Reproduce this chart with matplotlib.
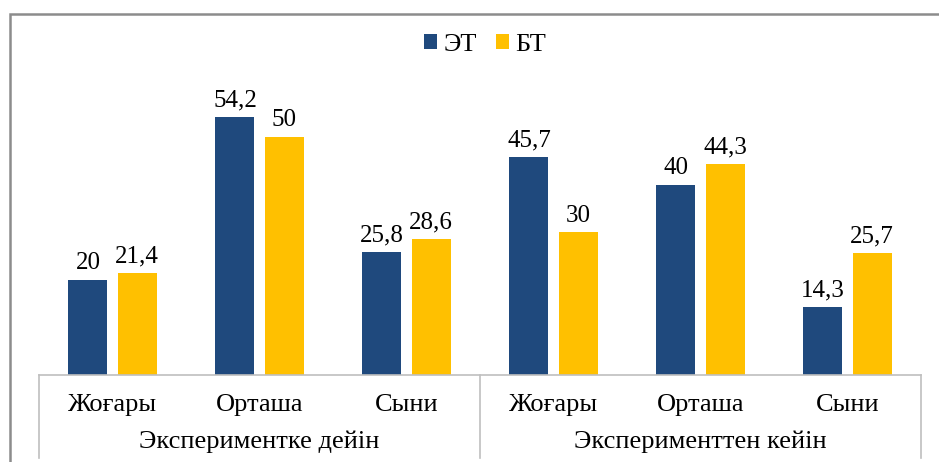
import matplotlib
matplotlib.use("Agg")
import matplotlib.pyplot as plt
import numpy as np
from matplotlib.patches import Rectangle

plt.rcParams["font.family"] = ["Liberation Serif", "DejaVu Serif"]

# данные
kategoriyalar = ["Жоғары", "Орташа", "Сыни", "Жоғары", "Орташа", "Сыни"]
toptar = ["Экспериментке дейін", "Эксперименттен кейін"]
et_mani = [20, 54.2, 25.8, 45.7, 40, 14.3]
bt_mani = [21.4, 50, 28.6, 30, 44.3, 25.7]
seriyalar = ["ЭТ", "БТ"]

KOK = "#1F497D"
SARY = "#FFC000"

W, H = 939, 462
fig = plt.figure(figsize=(W / 100, H / 100), dpi=100)

# axes in pixel coordinates
x0, x1 = 39, 921
y_base, y_top = 375, 70
ax = fig.add_axes([x0 / W, (H - y_base) / H, (x1 - x0) / W, (y_base - y_top) / H])

x = np.arange(len(kategoriyalar))
en = 0.265
ofset = 0.167
b1 = ax.bar(x - ofset, et_mani, en, color=KOK, label=seriyalar[0])
b2 = ax.bar(x + ofset, bt_mani, en, color=SARY, label=seriyalar[1])

def fmt(v):
    return f"{v:g}".replace(".", ",")

for bars, vals in [(b1, et_mani), (b2, bt_mani)]:
    for r, v in zip(bars, vals):
        ax.annotate(fmt(v), (r.get_x() + r.get_width() / 2, v),
                    xytext=(0, 4), textcoords="offset points",
                    ha="center", va="bottom", fontsize=18)

ax.set_xlim(-0.5, len(kategoriyalar) - 0.5)
ax.set_ylim(0, (y_base - y_top) / 4.76)
ax.set_yticks([])
ax.set_xticks(x)
ax.set_xticklabels(kategoriyalar, fontsize=19)
ax.tick_params(axis="x", length=0, pad=14)
for s in ["top", "left", "right"]:
    ax.spines[s].set_visible(False)
ax.spines["bottom"].set_color("#BFBFBF")
ax.spines["bottom"].set_linewidth(1.2)

# multi-level axis dividers
h_ax = y_base - y_top
y_low = -(458 - y_base) / h_ax
n = len(kategoriyalar) // len(toptar)
for k in range(len(toptar) + 1):
    xd = k * n - 0.5
    ax.plot([xd, xd], [0, y_low * ax.get_ylim()[1]], color="#BFBFBF",
            lw=1.2, clip_on=False)
for k, t in enumerate(toptar):
    ax.text((k + 0.5) / len(toptar), -(442 - y_base) / h_ax, t,
            transform=ax.transAxes, ha="center", va="center", fontsize=19)

fig.legend(loc="center", bbox_to_anchor=(485 / W, 1 - 45 / H), ncol=2,
           frameon=False, fontsize=19, handlelength=0.5, handleheight=0.5,
           handletextpad=0.25, columnspacing=0.7)

# outer chart frame
fig.patches.append(Rectangle((10 / W, -0.1), 1.2, 1.1 - 14 / H,
                             transform=fig.transFigure, fill=False,
                             edgecolor="#8C8C8C", lw=1.8))

fig.savefig("out.png", dpi=100)
